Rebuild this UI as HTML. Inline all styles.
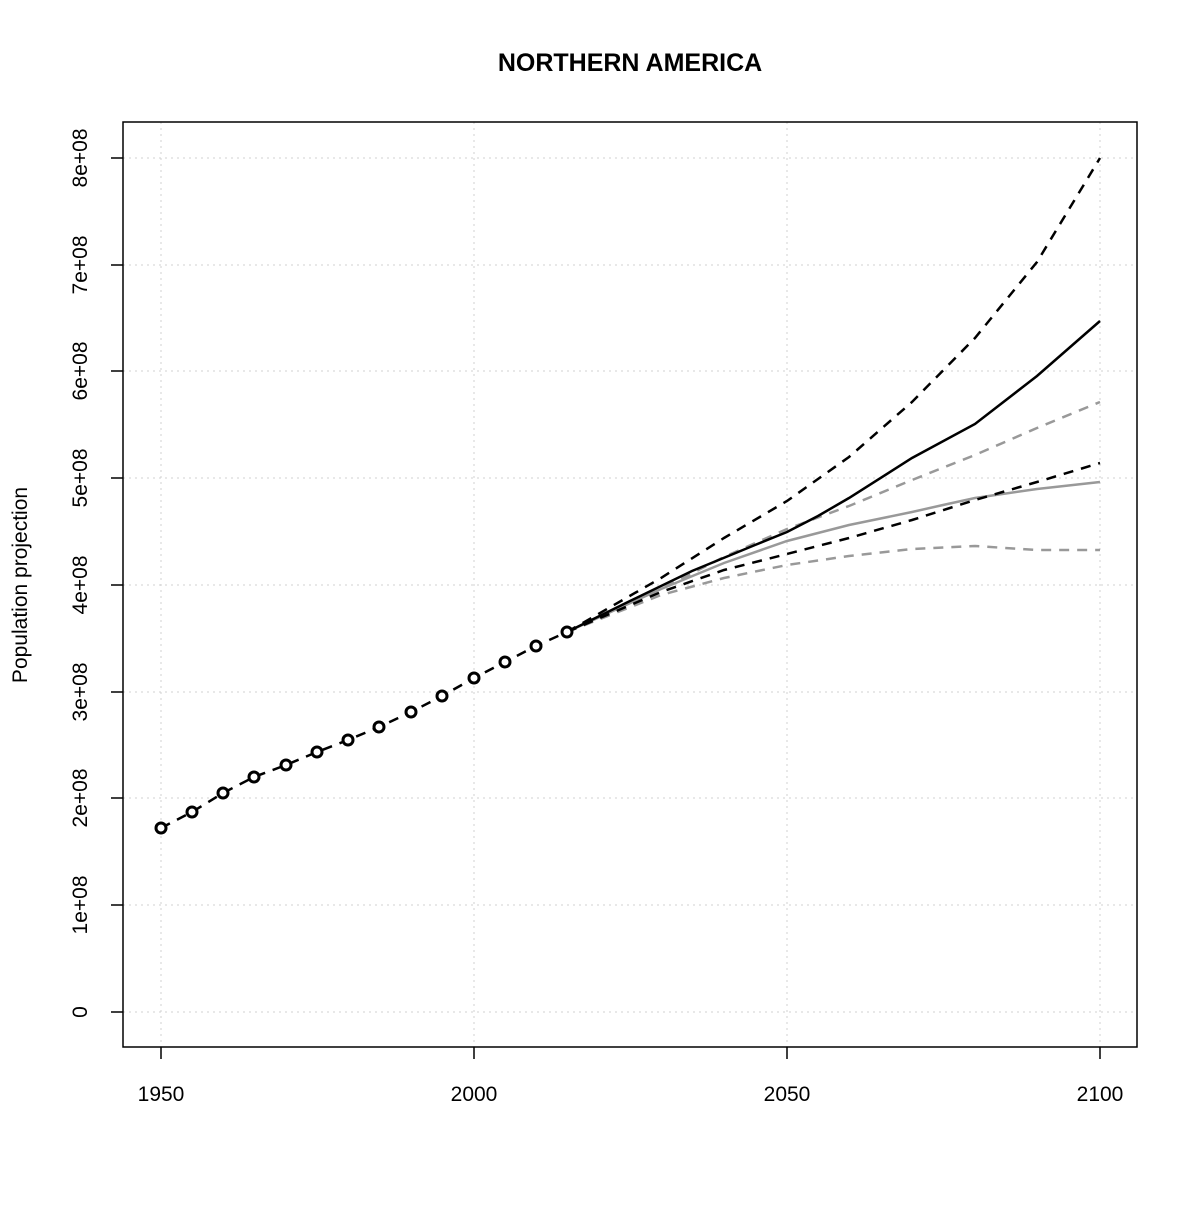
<!DOCTYPE html>
<html><head><meta charset="utf-8"><style>body{margin:0;background:#fff}</style></head><body>
<svg width="1200" height="1200" xmlns="http://www.w3.org/2000/svg" font-family="Liberation Sans, sans-serif">
<rect width="1200" height="1200" fill="#fff"/>
<text x="630" y="71" font-size="25" font-weight="bold" text-anchor="middle">NORTHERN AMERICA</text>
<g stroke="#d0d0d0" stroke-width="1" stroke-dasharray="2,4">
<line x1="161" y1="122" x2="161" y2="1047"/><line x1="474" y1="122" x2="474" y2="1047"/><line x1="787" y1="122" x2="787" y2="1047"/><line x1="1100" y1="122" x2="1100" y2="1047"/>
<line x1="123" y1="1012" x2="1137" y2="1012"/><line x1="123" y1="905" x2="1137" y2="905"/><line x1="123" y1="798" x2="1137" y2="798"/><line x1="123" y1="692" x2="1137" y2="692"/><line x1="123" y1="585" x2="1137" y2="585"/><line x1="123" y1="478" x2="1137" y2="478"/><line x1="123" y1="371" x2="1137" y2="371"/><line x1="123" y1="265" x2="1137" y2="265"/><line x1="123" y1="158" x2="1137" y2="158"/>
</g>
<rect x="123" y="122" width="1014" height="925" fill="none" stroke="#000" stroke-width="1.5"/>
<g stroke="#000" stroke-width="1.5">
<line x1="161" y1="1047" x2="161" y2="1059"/><line x1="474" y1="1047" x2="474" y2="1059"/><line x1="787" y1="1047" x2="787" y2="1059"/><line x1="1100" y1="1047" x2="1100" y2="1059"/>
<line x1="111" y1="1012" x2="123" y2="1012"/><line x1="111" y1="905" x2="123" y2="905"/><line x1="111" y1="798" x2="123" y2="798"/><line x1="111" y1="692" x2="123" y2="692"/><line x1="111" y1="585" x2="123" y2="585"/><line x1="111" y1="478" x2="123" y2="478"/><line x1="111" y1="371" x2="123" y2="371"/><line x1="111" y1="265" x2="123" y2="265"/><line x1="111" y1="158" x2="123" y2="158"/>
</g>
<g font-size="21" text-anchor="middle">
<text x="161" y="1101">1950</text><text x="474" y="1101">2000</text><text x="787" y="1101">2050</text><text x="1100" y="1101">2100</text>
</g>
<g font-size="21" text-anchor="middle">
<text transform="translate(87,1012) rotate(-90)">0</text>
<text transform="translate(87,905) rotate(-90)">1e+08</text>
<text transform="translate(87,798) rotate(-90)">2e+08</text>
<text transform="translate(87,692) rotate(-90)">3e+08</text>
<text transform="translate(87,585) rotate(-90)">4e+08</text>
<text transform="translate(87,478) rotate(-90)">5e+08</text>
<text transform="translate(87,371) rotate(-90)">6e+08</text>
<text transform="translate(87,265) rotate(-90)">7e+08</text>
<text transform="translate(87,158) rotate(-90)">8e+08</text>
<text transform="translate(27,585) rotate(-90)">Population projection</text>
</g>
<g fill="none" stroke-width="2.5">
<polyline stroke="#999" stroke-dasharray="10,8" points="567,632 661,589 724,557 787,529 849,506 912,480 975,455 1037,428 1100,402"/>
<polyline stroke="#999" stroke-dasharray="10,8" points="567,632 661,595 724,578 787,565 849,556 912,549 975,546 1037,550 1100,550"/>
<polyline stroke="#999" points="567,632 661,589 724,563 787,541 849,525 912,512 943,505 975,498 1037,489 1100,482"/>
<polyline stroke="#000" points="567,632 630,601 692,571 755,545 787,532 818,516 849,498 912,458 975,424 1037,376 1100,321"/>
<polyline stroke="#000" stroke-dasharray="10,8" points="567,632 661,578 724,538 787,501 849,457 912,402 975,338 1037,262 1100,158"/>
<polyline stroke="#000" stroke-dasharray="10,8" points="567,632 661,592 724,570 787,554 849,538 912,520 975,500 1037,482 1100,463"/>
<polyline stroke="#000" stroke-dasharray="10,8" points="161,828 192,812 223,793 254,777 286,765 317,752 348,740 379,727 411,712 442,696 474,678 505,662 536,646 567,632"/>
</g>
<g fill="#fff" stroke="#000" stroke-width="3">
<circle cx="161" cy="828" r="5"/><circle cx="192" cy="812" r="5"/><circle cx="223" cy="793" r="5"/><circle cx="254" cy="777" r="5"/><circle cx="286" cy="765" r="5"/><circle cx="317" cy="752" r="5"/><circle cx="348" cy="740" r="5"/><circle cx="379" cy="727" r="5"/><circle cx="411" cy="712" r="5"/><circle cx="442" cy="696" r="5"/><circle cx="474" cy="678" r="5"/><circle cx="505" cy="662" r="5"/><circle cx="536" cy="646" r="5"/><circle cx="567" cy="632" r="5"/>
</g>
</svg>
</body></html>
